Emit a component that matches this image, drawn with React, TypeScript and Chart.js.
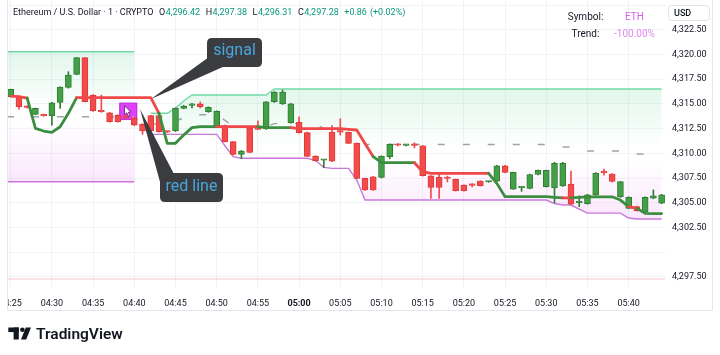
import React, { useEffect, useRef } from 'react';
import { Chart, registerables } from 'chart.js';

Chart.register(...registerables);

// ---------- data ----------
const timeLabels = ['04:25','04:30','04:35','04:40','04:45','04:50','04:55','05:00','05:05','05:10','05:15','05:20','05:25','05:30','05:35','05:40'];

const opens = [4315.73, 4315.73, 4314.72, 4313.94, 4313.94, 4313.81, 4315.16, 4316.68, 4317.99, 4319.68,
4315.90, 4314.28, 4314.11, 4313.88, 4313.75, 4313.54, 4312.93, 4313.81, 4313.81, 4312.20,
4312.26, 4314.55, 4314.85, 4315.00, 4314.21, 4312.76, 4312.80, 4311.18, 4309.90, 4312.59,
4312.59, 4312.50, 4315.22, 4315.00, 4313.10, 4313.15, 4312.10, 4309.73, 4309.30, 4312.15,
4312.25, 4312.12, 4311.01, 4307.46, 4307.63, 4307.56, 4309.66, 4310.90, 4310.80, 4310.85,
4310.76, 4307.73, 4307.56, 4307.50, 4307.36, 4306.79, 4306.80, 4307.19, 4307.10, 4307.19,
4308.74, 4306.38, 4306.50, 4306.45, 4307.86, 4306.62, 4306.50, 4306.70, 4306.90, 4305.00,
4304.90, 4305.80, 4308.10, 4307.90, 4305.61, 4304.43, 4304.60, 4304.09, 4305.45, 4304.95];

const highs = [4316.50, 4315.80, 4314.80, 4314.58, 4313.98, 4315.15, 4316.74, 4318.26, 4319.70, 4319.70,
4315.95, 4315.90, 4314.15, 4313.90, 4313.90, 4313.60, 4313.00, 4313.85, 4313.85, 4312.25,
4314.60, 4314.85, 4315.05, 4315.20, 4314.70, 4314.30, 4312.86, 4311.20, 4310.30, 4312.65,
4313.30, 4315.25, 4316.25, 4316.40, 4315.06, 4313.70, 4312.15, 4309.76, 4309.38, 4312.80,
4313.50, 4312.15, 4311.05, 4307.50, 4307.66, 4309.75, 4310.95, 4311.00, 4310.90, 4311.05,
4310.80, 4307.76, 4307.90, 4307.70, 4307.40, 4306.82, 4306.95, 4307.22, 4307.18, 4308.78,
4308.78, 4308.10, 4306.60, 4307.90, 4308.30, 4308.30, 4309.10, 4309.10, 4308.20, 4305.70,
4305.85, 4308.05, 4308.40, 4307.95, 4307.15, 4305.60, 4304.65, 4305.60, 4306.30, 4305.85];

const lows = [4315.70, 4314.48, 4314.58, 4313.90, 4313.75, 4312.86, 4314.55, 4316.60, 4317.95, 4315.20,
4314.25, 4314.15, 4313.15, 4313.15, 4313.50, 4312.82, 4311.92, 4312.20, 4312.15, 4312.10,
4312.20, 4314.50, 4314.60, 4314.60, 4314.15, 4312.70, 4311.15, 4309.85, 4309.45, 4310.05,
4312.40, 4312.43, 4315.15, 4314.95, 4313.05, 4312.05, 4309.68, 4309.20, 4308.55, 4309.15,
4311.85, 4310.98, 4307.44, 4306.25, 4306.25, 4307.50, 4309.45, 4310.75, 4310.75, 4310.55,
4307.70, 4305.44, 4305.44, 4307.10, 4306.18, 4306.18, 4306.60, 4306.68, 4307.05, 4307.15,
4308.03, 4306.35, 4306.15, 4306.40, 4307.82, 4306.58, 4305.00, 4306.65, 4304.80, 4304.60,
4304.85, 4305.75, 4307.80, 4307.10, 4305.55, 4304.40, 4304.15, 4304.05, 4305.40, 4304.90];

const closes = [4316.47, 4314.72, 4314.65, 4314.55, 4313.78, 4315.12, 4316.71, 4317.93, 4319.68, 4315.23,
4314.31, 4314.21, 4313.20, 4313.20, 4313.62, 4312.86, 4312.26, 4312.26, 4312.19, 4312.15,
4314.55, 4314.79, 4314.90, 4314.70, 4314.65, 4314.25, 4311.18, 4309.90, 4310.23, 4310.10,
4312.43, 4315.22, 4316.20, 4316.20, 4315.00, 4312.10, 4309.70, 4309.25, 4309.35, 4309.20,
4312.15, 4311.01, 4307.47, 4306.29, 4306.29, 4309.72, 4310.91, 4310.82, 4310.85, 4310.80,
4307.73, 4306.56, 4306.56, 4307.45, 4306.22, 4306.22, 4306.75, 4306.72, 4307.15, 4308.74,
4308.07, 4308.07, 4306.55, 4307.86, 4308.27, 4308.27, 4309.00, 4309.00, 4304.85, 4305.05,
4305.80, 4308.00, 4308.05, 4307.15, 4307.13, 4305.55, 4304.20, 4305.55, 4305.70, 4305.80];

// trend (stop) line value per candle
const trendLine = [4315.80, 4315.75, 4315.60, 4312.53, 4312.26, 4312.12, 4312.69, 4314.05, 4315.63, 4315.63,
4315.63, 4315.63, 4315.63, 4315.63, 4315.63, 4315.63, 4315.63, 4315.63, 4314.05, 4311.01,
4311.01, 4311.85, 4312.60, 4312.70, 4312.70, 4312.70, 4312.70, 4312.70, 4312.70, 4312.70,
4312.70, 4312.60, 4312.60, 4312.60, 4312.60, 4312.50, 4312.50, 4312.50, 4312.50, 4312.50,
4312.50, 4312.43, 4312.36, 4311.00, 4309.66, 4309.05, 4309.05, 4309.05, 4309.05, 4309.05,
4308.14, 4307.98, 4307.98, 4307.98, 4307.98, 4307.98, 4307.98, 4307.98, 4307.98, 4306.96,
4305.61, 4305.61, 4305.61, 4305.61, 4305.61, 4305.61, 4305.55, 4305.50, 4305.50, 4305.55,
4305.60, 4305.60, 4305.60, 4305.60, 4305.27, 4304.60, 4304.43, 4303.93, 4303.90, 4303.90];

// side of each trend segment (segment i joins candle i and i+1): u = bullish (green), d = bearish (red)
const trendSide = ['d','d','u','u','u','u','u','u','d','d',
'd','d','d','d','d','d','d','d','u','u',
'u','u','u','u','u','d','d','d','d','d',
'u','u','u','u','d','d','d','d','d','d',
'd','d','d','d','u','u','u','u','u','d',
'd','d','d','d','d','d','d','d','u','u',
'u','u','u','u','u','u','u','d','u','u',
'u','u','u','u','u','d','u','u','u'];

// range band (null = no band on that candle)
const bandUpper = [4320.28, 4320.28, 4320.28, 4320.28, 4320.28, 4320.28, 4320.28, 4320.28, 4320.28, 4320.28,
4320.28, 4320.28, 4320.28, 4320.28, 4320.28, 4320.28, null, 4314.05, 4314.05, 4314.05,
4314.58, 4315.30, 4315.90, 4315.90, 4315.90, 4315.90, 4315.90, 4315.90, 4315.90, 4315.90,
4315.90, 4315.90, 4316.51, 4316.51, 4316.51, 4316.51, 4316.51, 4316.51, 4316.51, 4316.51,
4316.51, 4316.51, 4316.51, 4316.51, 4316.51, 4316.51, 4316.51, 4316.51, 4316.51, 4316.51,
4316.51, 4316.51, 4316.51, 4316.51, 4316.51, 4316.51, 4316.51, 4316.51, 4316.51, 4316.51,
4316.51, 4316.51, 4316.51, 4316.51, 4316.51, 4316.51, 4316.51, 4316.51, 4316.51, 4316.51,
4316.51, 4316.51, 4316.51, 4316.51, 4316.51, 4316.51, 4316.51, 4316.51, 4316.51, 4316.51];

const bandLower = [4307.13, 4307.13, 4307.13, 4307.13, 4307.13, 4307.13, 4307.13, 4307.13, 4307.13, 4307.13,
4307.13, 4307.13, 4307.13, 4307.13, 4307.13, 4307.13, null, 4311.92, 4311.92, 4311.92,
4311.92, 4311.92, 4311.92, 4311.92, 4311.92, 4311.92, 4310.77, 4309.66, 4309.50, 4309.50,
4309.50, 4309.50, 4309.50, 4309.50, 4309.50, 4309.50, 4309.50, 4309.27, 4308.58, 4308.48,
4308.48, 4308.48, 4307.30, 4305.27, 4305.27, 4305.27, 4305.27, 4305.27, 4305.27, 4305.27,
4305.27, 4305.27, 4305.27, 4305.27, 4305.27, 4305.27, 4305.27, 4305.27, 4305.27, 4305.27,
4305.27, 4305.27, 4305.27, 4305.27, 4305.27, 4305.27, 4304.92, 4304.77, 4304.77, 4304.36,
4303.95, 4303.95, 4303.95, 4303.95, 4303.95, 4303.45, 4303.35, 4303.35, 4303.35, 4303.35];

const yTickHidden = [4325, 4300];
const headerTitle = 'Ethereum / U.S. Dollar · 1 · CRYPTO';
const headerOHLC = [['O', '4,296.42'], ['H', '4,297.38'], ['L', '4,296.31'], ['C', '4,297.28']];
const headerChange = ['+0.86', '(+0.02%)'];
const lastPrice = 4297.28;
const tableRows = [['Symbol:', 'ETH'], ['Trend:', '-100.00%']];
const signalIndex = 14;
const signalTop = 4315.12;
const signalBottom = 4313.37;

// ---------- style ----------
const X_MIN = -0.45;
const X_MAX = 79.41;
const Y_MIN = 4296.37;
const Y_MAX = 4325.52;
const FONT = 'Roboto, "Noto Sans", sans-serif';
const TXT = '#131722';
const GRID = '#f1f3f6';
const C_UP = '#43a047';
const C_UP_B = '#2f7d33';
const C_DN = '#f24b4b';
const C_DN_B = '#e03a3a';
const T_UP = '#3b8e3f';
const T_DN = '#f04848';

function regions(upper: (number | null)[], lower: (number | null)[]) {
  const out: { idx: number[] }[] = [];
  let cur: number[] = [];
  upper.forEach((u, i) => {
    if (u == null || lower[i] == null) {
      if (cur.length) out.push({ idx: cur });
      cur = [];
    } else cur.push(i);
  });
  if (cur.length) out.push({ idx: cur });
  return out;
}

function bandGradient(chart: any, top: number, bottom: number) {
  const ys = chart.scales?.y;
  if (!ys || !chart.chartArea) return 'rgba(0,0,0,0)';
  const y0 = ys.getPixelForValue(top);
  const y1 = ys.getPixelForValue(bottom);
  const g = chart.ctx.createLinearGradient(0, y0, 0, y1);
  g.addColorStop(0, 'rgba(70,205,135,0.16)');
  g.addColorStop(0.45, 'rgba(70,205,135,0.0)');
  g.addColorStop(0.55, 'rgba(225,95,240,0.0)');
  g.addColorStop(1, 'rgba(225,95,240,0.15)');
  return g;
}

function roundRect(ctx: CanvasRenderingContext2D, x: number, y: number, w: number, h: number, r: number) {
  ctx.beginPath();
  ctx.moveTo(x + r, y);
  ctx.lineTo(x + w - r, y);
  ctx.quadraticCurveTo(x + w, y, x + w, y + r);
  ctx.lineTo(x + w, y + h - r);
  ctx.quadraticCurveTo(x + w, y + h, x + w - r, y + h);
  ctx.lineTo(x + r, y + h);
  ctx.quadraticCurveTo(x, y + h, x, y + h - r);
  ctx.lineTo(x, y + r);
  ctx.quadraticCurveTo(x, y, x + r, y);
  ctx.closePath();
}

function poly(ctx: CanvasRenderingContext2D, pts: number[][]) {
  ctx.beginPath();
  pts.forEach((p, i) => (i ? ctx.lineTo(p[0], p[1]) : ctx.moveTo(p[0], p[1])));
  ctx.closePath();
}

const overlay = {
  id: 'overlay',
  beforeDatasetsDraw(chart: any) {
    const { ctx, scales } = chart;
    const x0 = scales.x.getPixelForValue(signalIndex - 0.82);
    const x1 = scales.x.getPixelForValue(signalIndex + 1.35);
    const y0 = scales.y.getPixelForValue(signalTop);
    const y1 = scales.y.getPixelForValue(signalBottom);
    ctx.save();
    ctx.fillStyle = '#e040fb';
    ctx.fillRect(x0, y0, x1 - x0, y1 - y0);
    ctx.strokeStyle = '#c22fd8';
    ctx.lineWidth = 1;
    ctx.strokeRect(x0 + 0.5, y0 + 0.5, x1 - x0 - 1, y1 - y0 - 1);
    ctx.restore();
  },
  afterDatasetsDraw(chart: any) {
    const { ctx, scales } = chart;
    const cx = scales.x.getPixelForValue(signalIndex) - 1.5;
    const cy = scales.y.getPixelForValue(signalTop) + 3;
    ctx.save();
    poly(ctx, [[cx, cy], [cx, cy + 9], [cx + 2.2, cy + 7], [cx + 4, cy + 10.5], [cx + 5.4, cy + 9.8], [cx + 3.7, cy + 6.4], [cx + 6.5, cy + 6.4]]);
    ctx.fillStyle = '#ffffff';
    ctx.fill();
    ctx.strokeStyle = '#5a1a66';
    ctx.lineWidth = 0.8;
    ctx.stroke();
    ctx.restore();
  },
  afterDraw(chart: any) {
    const ctx: CanvasRenderingContext2D = chart.ctx;
    ctx.save();
    ctx.fillStyle = '#ffffff';
    ctx.fillRect(0, 286, 7, 24);
    ctx.strokeStyle = '#e3e6ec';
    ctx.lineWidth = 1;
    ctx.beginPath();
    ctx.moveTo(7.5, 0); ctx.lineTo(7.5, 310.5);
    ctx.lineTo(712.5, 310.5); ctx.lineTo(712.5, 0);
    ctx.stroke();

    // header legend
    ctx.textBaseline = 'middle';
    ctx.textAlign = 'left';
    ctx.font = `9px ${FONT}`;
    let x = 13;
    const hy = 13;
    ctx.fillStyle = TXT;
    ctx.fillText(headerTitle, x, hy);
    x += ctx.measureText(headerTitle).width + 5.5;
    headerOHLC.forEach(([k, v]) => {
      ctx.fillStyle = TXT;
      ctx.fillText(k, x, hy);
      x += ctx.measureText(k).width + 0.5;
      ctx.fillStyle = '#089981';
      ctx.fillText(v, x, hy);
      x += ctx.measureText(v).width + 5.5;
    });
    ctx.fillStyle = '#089981';
    ctx.fillText(headerChange[0], x, hy);
    x += ctx.measureText(headerChange[0]).width + 3;
    ctx.fillText(headerChange[1], x, hy);

    // info table
    ctx.textAlign = 'center';
    ctx.font = `10px ${FONT}`;
    tableRows.forEach(([k, v], r) => {
      const ry = 17 + r * 17;
      ctx.fillStyle = TXT;
      ctx.fillText(k, 585.5, ry);
      ctx.fillStyle = r === 0 ? '#d65ce8' : '#e08aee';
      ctx.fillText(v, 634.5, ry);
    });

    // currency box
    ctx.fillStyle = '#ffffff';
    roundRect(ctx, 668.5, 5.5, 41, 15, 3);
    ctx.fill();
    ctx.strokeStyle = '#e0e3eb';
    ctx.stroke();
    ctx.fillStyle = TXT;
    ctx.textAlign = 'left';
    ctx.font = `500 9px ${FONT}`;
    ctx.fillText('USD', 674, 13.5);

    // callouts
    const dark = '#3a3c40';
    ctx.fillStyle = dark;
    poly(ctx, [[209, 57], [225, 66], [151, 99]]);
    ctx.fill();
    roundRect(ctx, 207, 38, 55, 29, 5);
    ctx.fill();
    poly(ctx, [[140, 109], [174, 174], [160, 182]]);
    ctx.fill();
    roundRect(ctx, 160, 173, 63, 29, 5);
    ctx.fill();
    ctx.fillStyle = '#4aa6dc';
    ctx.textAlign = 'center';
    ctx.font = `16px ${FONT}`;
    ctx.fillText('signal', 234.5, 51);
    ctx.fillText('red line', 191.5, 187);

    // TradingView logo
    ctx.fillStyle = TXT;
    ctx.fillRect(8.3, 327.5, 10.5, 4.6);
    ctx.fillRect(13.6, 327.5, 5.2, 12);
    ctx.beginPath();
    ctx.arc(22.4, 329.8, 2.3, 0, Math.PI * 2);
    ctx.fill();
    poly(ctx, [[25.8, 327.5], [31, 327.5], [26.2, 339.5], [21, 339.5]]);
    ctx.fill();
    ctx.textAlign = 'left';
    ctx.textBaseline = 'alphabetic';
    ctx.font = `600 15.5px ${FONT}`;
    ctx.fillText('TradingView', 36, 338.5);
    ctx.restore();
  },
};

export default function App() {
  const ref = useRef<HTMLCanvasElement>(null);
  useEffect(() => {
    const canvas = ref.current;
    if (!canvas) return;
    const idx = opens.map((_, i) => i);
    const bodies = idx.map((i) => ({ x: i, y: [opens[i], closes[i]] }));
    const wicks = idx.map((i) => ({ x: i, y: [lows[i], highs[i]] }));
    const isUp = idx.map((i) => closes[i] >= opens[i]);

    const bandSets: any[] = [];
    regions(bandUpper, bandLower).forEach((reg, ri) => {
      const first = reg.idx[0];
      const lead = first === 0 ? [X_MIN] : [];
      const up = [...lead.map((x) => ({ x, y: bandUpper[first] as number })), ...reg.idx.map((i) => ({ x: i, y: bandUpper[i] as number }))];
      const lo = [...lead.map((x) => ({ x, y: bandLower[first] as number })), ...reg.idx.map((i) => ({ x: i, y: bandLower[i] as number }))];
      const mid = up.map((p, k) => ({ x: p.x, y: (p.y + lo[k].y) / 2 }));
      const top = Math.max(...up.map((p) => p.y));
      const bottom = Math.min(...lo.map((p) => p.y));
      const base = bandSets.length;
      bandSets.push({
        type: 'line', label: 'upper' + ri, data: up, borderColor: '#74d9a8', borderWidth: 1.4,
        pointRadius: 0, tension: 0, order: 20,
        fill: { target: base + 1 },
        backgroundColor: (c: any) => bandGradient(c.chart, top, bottom),
      });
      bandSets.push({
        type: 'line', label: 'lower' + ri, data: lo, borderColor: '#c879d8', borderWidth: 1.4,
        pointRadius: 0, tension: 0, order: 20, fill: false,
      });
      bandSets.push({
        type: 'line', label: 'mid' + ri, data: mid, borderColor: '#9ea3a9', borderWidth: 1.4,
        borderDash: [7, 18], pointRadius: 0, tension: 0, order: 15, fill: false,
      });
    });

    const datasets: any[] = [
      ...bandSets,
      {
        type: 'line', label: 'last', data: [{ x: X_MIN, y: lastPrice }, { x: X_MAX, y: lastPrice }],
        borderColor: 'rgba(242,54,69,0.28)', borderWidth: 1, pointRadius: 0, order: 15, fill: false,
      },
      {
        type: 'bar', label: 'wicks', data: wicks, barThickness: 1, grouped: false, minBarLength: 1,
        backgroundColor: idx.map((i) => (isUp[i] ? C_UP_B : C_DN)), borderWidth: 0, order: 6,
      },
      {
        type: 'bar', label: 'bodies', data: bodies, barThickness: 6, grouped: false, minBarLength: 1.5,
        backgroundColor: idx.map((i) => (isUp[i] ? C_UP : C_DN)),
        borderColor: idx.map((i) => (isUp[i] ? C_UP_B : C_DN_B)),
        borderWidth: 1, borderSkipped: false, order: 5,
      },
      {
        type: 'line', label: 'trend', data: idx.map((i) => ({ x: i, y: trendLine[i] })),
        borderWidth: 2.8, pointRadius: 0, tension: 0, order: 1, fill: false,
        borderColor: T_UP, borderJoinStyle: 'round', borderCapStyle: 'round',
        segment: { borderColor: (c: any) => (trendSide[c.p0DataIndex] === 'u' ? T_UP : T_DN) },
      },
    ];

    const chart = new Chart(canvas, {
      type: 'line',
      data: { datasets },
      options: {
        animation: false,
        responsive: false,
        maintainAspectRatio: false,
        events: [],
        layout: { autoPadding: false, padding: { left: 7, right: 0, top: 0, bottom: 0 } },
        plugins: { legend: { display: false }, tooltip: { enabled: false }, title: { display: false } },
        scales: {
          x: {
            type: 'linear', min: X_MIN, max: X_MAX, offset: false,
            grid: { color: GRID, drawTicks: false, offset: false } as any,
            border: { display: false },
            ticks: {
              stepSize: 5, includeBounds: false, autoSkip: false, maxRotation: 0, padding: 10,
              color: TXT,
              font: (c: any) => {
                const lbl = timeLabels[Math.round((c.tick?.value ?? 0) / 5)] || '';
                return { family: FONT, size: 9, weight: lbl.endsWith(':00') ? 'bold' : 'normal' } as any;
              },
              callback: (v: any) => timeLabels[Math.round(Number(v) / 5)] ?? '',
            },
            afterFit: (s: any) => { s.height = 67; s.paddingLeft = 0; s.paddingRight = 0; },
          } as any,
          y: {
            type: 'linear', position: 'right', min: Y_MIN, max: Y_MAX,
            grid: { color: GRID, drawTicks: false },
            border: { display: false },
            ticks: {
              stepSize: 2.5, includeBounds: false, padding: 7, color: TXT,
              font: { family: FONT, size: 9 },
              callback: (v: any) => (yTickHidden.includes(Number(v)) ? '' : Number(v).toLocaleString('en-US', { minimumFractionDigits: 2, maximumFractionDigits: 2 })),
            },
            afterFit: (s: any) => { s.width = 55; s.paddingTop = 0; s.paddingBottom = 0; },
          } as any,
        },
      } as any,
      plugins: [overlay as any],
    });
    return () => chart.destroy();
  }, []);

  return (
    <div style={{ position: 'fixed', left: 0, top: 0, width: 720, height: 355, background: '#ffffff' }}>
      <canvas ref={ref} width={720} height={355} style={{ display: 'block', width: 720, height: 355 }} />
    </div>
  );
}
